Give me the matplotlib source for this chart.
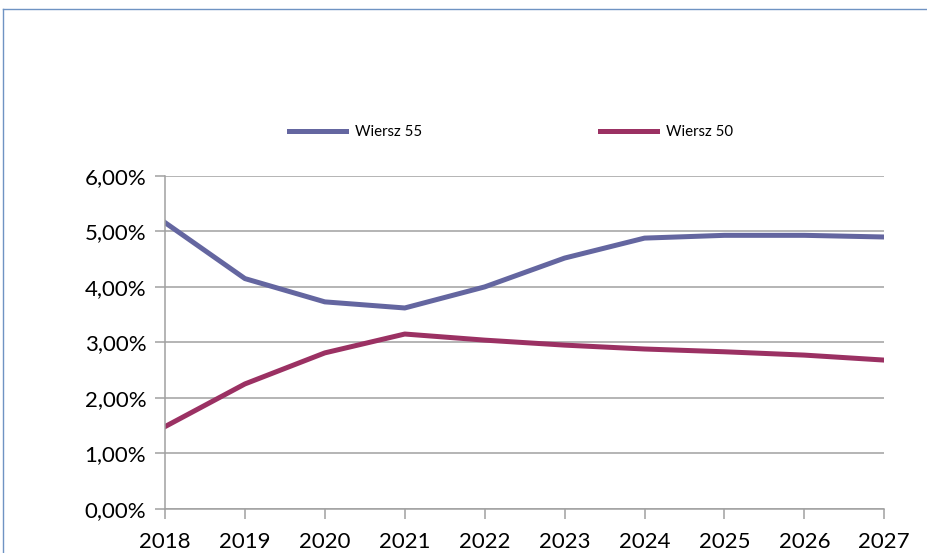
import matplotlib
matplotlib.use("Agg")
import matplotlib.pyplot as plt
from matplotlib.lines import Line2D
from matplotlib.ticker import FuncFormatter

years = [2018, 2019, 2020, 2021, 2022, 2023, 2024, 2025, 2026, 2027]
wiersz55 = [5.16, 4.15, 3.73, 3.62, 4.00, 4.52, 4.88, 4.93, 4.93, 4.90]
wiersz50 = [1.48, 2.25, 2.81, 3.15, 3.04, 2.95, 2.88, 2.83, 2.77, 2.68]
labels = ["Wiersz 55", "Wiersz 50"]
colors = ["#6466A0", "#9B3163"]

plt.rcParams['font.family'] = ['Lato', 'DejaVu Sans']

fig = plt.figure(figsize=(9.28, 5.53), dpi=100)
W, H = 928, 553
ax = fig.add_axes([165 / W, (H - 508.7) / H, (884.3 - 165) / W, (508.7 - 176) / H])

ax.plot(years, wiersz55, color=colors[0], lw=3.6, label=labels[0], solid_joinstyle='round')
ax.plot(years, wiersz50, color=colors[1], lw=3.6, label=labels[1], solid_joinstyle='round')

ax.set_xlim(years[0], years[-1])
ax.set_ylim(0, 6)
ax.set_yticks(range(0, 7))
ax.yaxis.set_major_formatter(FuncFormatter(lambda v, p: f"{v:.2f}".replace(".", ",") + "%"))
ax.set_xticks(years)
ax.grid(axis='y', color='#A0A0A0', lw=1.1)
ax.set_axisbelow(True)
for s in ['top', 'right']:
    ax.spines[s].set_visible(False)
for s in ['left', 'bottom']:
    ax.spines[s].set_color('#A0A0A0')
    ax.spines[s].set_linewidth(1.1)
ax.tick_params(axis='both', direction='out', length=7.5, width=1.1, color='#A0A0A0',
               labelsize=16, labelcolor='black')
ax.tick_params(axis='x', pad=9)
ax.tick_params(axis='y', pad=6)

leg = fig.legend(loc='center', bbox_to_anchor=(511 / W, 1 - 132 / H), ncol=2, frameon=False,
                 fontsize=10.8, handlelength=3.8, handletextpad=0.6, columnspacing=11.9)

# outer chart border (top and left edges visible)
border_color = '#6F93C3'
fig.add_artist(Line2D([3 / W, 1.0], [1 - 9 / H, 1 - 9 / H], transform=fig.transFigure,
                      color=border_color, lw=1.0))
fig.add_artist(Line2D([3 / W, 3 / W], [0.0, 1 - 9 / H], transform=fig.transFigure,
                      color=border_color, lw=1.0))

fig.savefig("out.png", dpi=100)
